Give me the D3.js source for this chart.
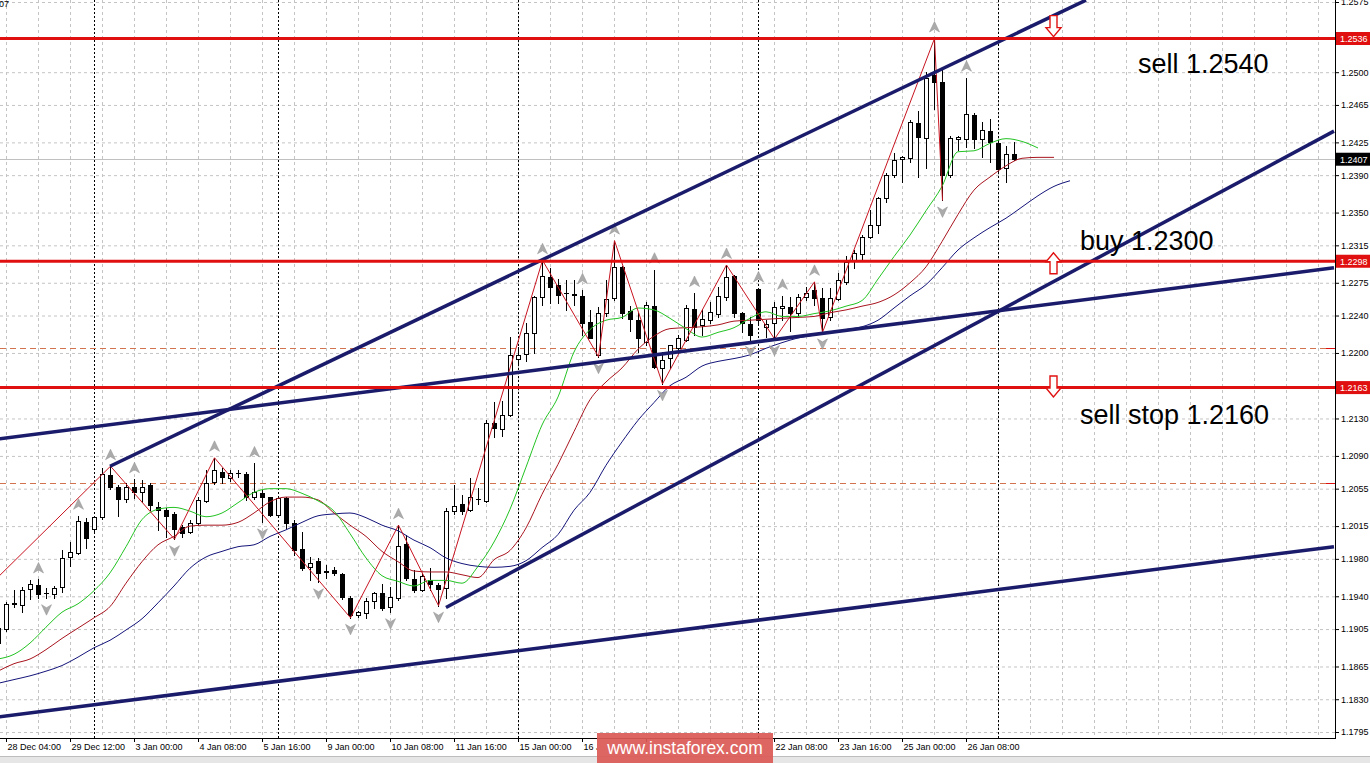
<!DOCTYPE html>
<html><head><meta charset="utf-8">
<script src="https://cdn.jsdelivr.net/npm/d3@7/dist/d3.min.js"></script>
<style>html,body{margin:0;padding:0;background:#fff;overflow:hidden}svg{display:block}</style>
</head><body><svg id="c" width="1370" height="763"></svg>
<script>
// ---------- DATA (EURUSD H4) ----------
const opens = [1.1890,1.1905,1.1932,1.1931,1.1948,1.1952,1.1944,1.1942,1.1950,1.1982,1.1986,1.2019,1.2012,1.2025,1.2070,1.2057,1.2044,1.2057,1.2051,1.2059,1.2035,1.2032,1.2028,1.2014,1.2009,1.2018,1.2042,1.2062,1.2073,1.2066,1.2072,1.2071,1.2046,1.2050,1.2046,1.2027,1.2045,1.2018,1.1991,1.1971,1.1978,1.1966,1.1968,1.1964,1.1938,1.1920,1.1922,1.1935,1.1944,1.1929,1.1938,1.1996,1.1959,1.1947,1.1957,1.1952,1.1949,1.2031,1.2039,1.2032,1.2044,1.2042,1.2125,1.2119,1.2134,1.2194,1.2199,1.2221,1.2260,1.2281,1.2273,1.2264,1.2263,1.2261,1.2233,1.2198,1.2243,1.2259,1.2292,1.2245,1.2235,1.2212,1.2250,1.2184,1.2195,1.2205,1.2214,1.2247,1.2230,1.2235,1.2242,1.2260,1.2282,1.2243,1.2231,1.2268,1.2228,1.2232,1.2248,1.2249,1.2243,1.2260,1.2267,1.2259,1.2238,1.2258,1.2276,1.2299,1.2306,1.2324,1.2337,1.2366,1.2390,1.2407,1.2408,1.2446,1.2430,1.2497,1.2490,1.2390,1.2429,1.2429,1.2454,1.2429,1.2437,1.2424,1.2398,1.2413];
const highs = [1.1915,1.1934,1.1947,1.1950,1.1957,1.1958,1.1949,1.1951,1.1989,1.1998,1.2026,1.2024,1.2026,1.2077,1.2079,1.2059,1.2061,1.2065,1.2064,1.2061,1.2041,1.2034,1.2030,1.2016,1.2022,1.2046,1.2075,1.2088,1.2077,1.2075,1.2075,1.2073,1.2082,1.2054,1.2046,1.2046,1.2046,1.2022,1.2009,1.1982,1.1981,1.1973,1.1971,1.1965,1.1940,1.1924,1.1938,1.1945,1.1953,1.1950,1.2016,1.2006,1.1968,1.1965,1.1970,1.1954,1.2034,1.2059,1.2048,1.2066,1.2056,1.2128,1.2148,1.2149,1.2217,1.2206,1.2232,1.2261,1.2299,1.2291,1.2279,1.2278,1.2278,1.2267,1.2246,1.2249,1.2278,1.2320,1.2293,1.2250,1.2243,1.2254,1.2289,1.2201,1.2209,1.2219,1.2251,1.2264,1.2247,1.2254,1.2270,1.2294,1.2283,1.2244,1.2238,1.2269,1.2235,1.2254,1.2261,1.2260,1.2263,1.2271,1.2276,1.2269,1.2269,1.2285,1.2304,1.2310,1.2326,1.2353,1.2367,1.2392,1.2414,1.2410,1.2449,1.2459,1.2500,1.2536,1.2502,1.2432,1.2432,1.2494,1.2456,1.2447,1.2450,1.2425,1.2421,1.2425];
const lows = [1.1885,1.1903,1.1929,1.1923,1.1937,1.1938,1.1938,1.1938,1.1945,1.1972,1.1985,1.1992,1.2009,1.2023,1.2055,1.2026,1.2041,1.2045,1.2041,1.2032,1.2011,1.2003,1.2001,1.2003,1.2008,1.2016,1.2041,1.2060,1.2061,1.2063,1.2067,1.2043,1.2044,1.2019,1.2026,1.2026,1.2013,1.1984,1.1968,1.1957,1.1955,1.1960,1.1963,1.1937,1.1917,1.1918,1.1917,1.1928,1.1925,1.1923,1.1936,1.1957,1.1945,1.1946,1.1947,1.1930,1.1938,1.2028,1.2028,1.2031,1.2039,1.2041,1.2110,1.2111,1.2133,1.2187,1.2191,1.2200,1.2251,1.2253,1.2253,1.2246,1.2251,1.2219,1.2216,1.2196,1.2240,1.2257,1.2237,1.2224,1.2201,1.2208,1.2184,1.2167,1.2184,1.2200,1.2213,1.2219,1.2219,1.2232,1.2238,1.2257,1.2238,1.2222,1.2214,1.2232,1.2217,1.2215,1.2235,1.2224,1.2238,1.2257,1.2251,1.2222,1.2235,1.2257,1.2274,1.2291,1.2299,1.2323,1.2328,1.2361,1.2388,1.2383,1.2404,1.2388,1.2398,1.2461,1.2363,1.2388,1.2417,1.2420,1.2419,1.2409,1.2404,1.2393,1.2383,1.2406];
const closes = [1.1906,1.1932,1.1933,1.1947,1.1953,1.1942,1.1944,1.1949,1.1981,1.1987,1.2020,1.2002,1.2025,1.2071,1.2057,1.2044,1.2057,1.2051,1.2057,1.2038,1.2032,1.2026,1.2012,1.2008,1.2018,1.2043,1.2061,1.2075,1.2067,1.2072,1.2072,1.2046,1.2051,1.2046,1.2027,1.2045,1.2018,1.1989,1.1970,1.1976,1.1965,1.1967,1.1965,1.1939,1.1920,1.1923,1.1935,1.1944,1.1928,1.1939,1.1994,1.1960,1.1947,1.1962,1.1953,1.1948,1.2031,1.2036,1.2031,1.2046,1.2044,1.2125,1.2120,1.2134,1.2198,1.2198,1.2221,1.2260,1.2282,1.2270,1.2262,1.2264,1.2262,1.2232,1.2216,1.2243,1.2258,1.2292,1.2243,1.2236,1.2216,1.2251,1.2185,1.2192,1.2208,1.2216,1.2248,1.2228,1.2236,1.2244,1.2261,1.2281,1.2243,1.2232,1.2219,1.2235,1.2231,1.2249,1.2250,1.2243,1.2260,1.2264,1.2259,1.2237,1.2259,1.2278,1.2297,1.2307,1.2324,1.2337,1.2366,1.2390,1.2406,1.2409,1.2447,1.2431,1.2494,1.2490,1.2390,1.2430,1.2431,1.2455,1.2429,1.2438,1.2425,1.2397,1.2413,1.2407];

// Alligator lines, read every 2 bars starting at bar 0
const lipsGreen = [1.1873,1.1878,1.1890,1.1907,1.1923,1.1932,1.1946,1.1965,1.1993,1.2022,1.2033,1.2035,1.2031,1.2025,1.2029,1.2040,1.2051,1.2055,1.2055,1.2050,1.2042,1.2031,1.2007,1.1981,1.1962,1.1956,1.1951,1.1957,1.1957,1.1954,1.1972,1.1998,1.2033,1.2078,1.2123,1.2153,1.2201,1.2225,1.2235,1.2238,1.2248,1.2246,1.2237,1.2226,1.2217,1.2222,1.2227,1.2237,1.2244,1.2239,1.2239,1.2242,1.2245,1.2250,1.2256,1.2279,1.2303,1.2326,1.2352,1.2378,1.2415,1.2416,1.2424,1.2429,1.2426,1.2419];
const teethRed = [1.1860,1.1868,1.1873,1.1883,1.1895,1.1906,1.1917,1.1929,1.1954,1.1977,1.1995,1.2004,1.2015,1.2016,1.2016,1.2019,1.2029,1.2041,1.2046,1.2046,1.2043,1.2029,1.2016,1.2004,1.1988,1.1977,1.1967,1.1966,1.1966,1.1963,1.1960,1.1979,1.1989,1.2013,1.2049,1.2081,1.2116,1.2150,1.2169,1.2184,1.2204,1.2218,1.2226,1.2227,1.2228,1.2230,1.2234,1.2235,1.2236,1.2237,1.2238,1.2239,1.2243,1.2246,1.2250,1.2254,1.2262,1.2275,1.2292,1.2319,1.2348,1.2374,1.2388,1.2400,1.2408,1.2409,1.2409];
const jawBlue = [1.1847,1.1851,1.1855,1.1860,1.1866,1.1875,1.1885,1.1893,1.1904,1.1916,1.1933,1.1951,1.1970,1.1982,1.1988,1.1993,1.1995,1.2004,1.2011,1.2019,1.2026,1.2028,1.2029,1.2024,1.2016,1.2010,1.2000,1.1992,1.1981,1.1975,1.1972,1.1971,1.1972,1.1978,1.1992,1.2006,1.2032,1.2051,1.2080,1.2105,1.2128,1.2147,1.2165,1.2174,1.2186,1.2191,1.2194,1.2198,1.2205,1.2211,1.2216,1.2219,1.2222,1.2225,1.2228,1.2235,1.2248,1.2261,1.2273,1.2291,1.2310,1.2323,1.2334,1.2344,1.2356,1.2368,1.2378,1.2384];

// ZigZag vertices (bar index, price)
const zigzagIdx = [0,14,22,27,44,50,55,68,75,77,83,91,97,102,103,117,118];
const zigzagVal = [1.1961,1.2079,1.2001,1.2088,1.1917,1.2016,1.1930,1.2299,1.2196,1.2320,1.2167,1.2294,1.2215,1.2276,1.2222,1.2536,1.2363];

// Fractals (bar indices)
const fractalUp = [5,10,14,17,27,32,50,68,73,77,82,87,91,95,98,102,117,121];
const fractalDown = [6,22,33,40,44,49,55,75,83,94,97,103,118];

// Trend lines: [barIndex, price] pairs
const trendUpper = [[14,1.2079],[136,1.2577]];
const trendLowerChannel = [[56,1.1928],[167,1.2437]];
const trendMiddle = [[0,1.2108],[167,1.2291]];
const trendBottom = [[0,1.1811],[167,1.1993]];

// Horizontal levels
const redLevels = [1.2536,1.2298,1.2163];
const dashedLevels = [1.2205,1.2061];
const bidPrice = 1.2407;

// Annotation arrows (tip price) and texts
const arrowBar = [132,132,132];
const arrowTip = [1.2538,1.2307,1.2153];
const arrowDir = ["down","up","down"];
const noteText = ["sell 1.2540","buy 1.2300","sell stop 1.2160"];
const noteBar = [142.5,135.25,135.25];
const notePrice = [1.2499,1.2310,1.2124];

// Axis ticks
const priceTicks = [1.2575,1.2500,1.2465,1.2425,1.2390,1.2350,1.2315,1.2275,1.2240,1.2200,1.2130,1.2090,1.2055,1.2015,1.1980,1.1940,1.1905,1.1865,1.1830,1.1795];
const timeTickIdx = [1,9,17,25,33,41,49,57,65,73,81,89,97,105,113,121];
const timeLabels = ["28 Dec 04:00","29 Dec 12:00","3 Jan 00:00","4 Jan 08:00","5 Jan 16:00","9 Jan 00:00","10 Jan 08:00","11 Jan 16:00","15 Jan 00:00","16 Jan 08:00","17 Jan 16:00","19 Jan 00:00","22 Jan 08:00","23 Jan 16:00","25 Jan 00:00","26 Jan 08:00"];
const weekSeparators = [12,35,65,95,125];

// ---------- DRAW ----------
const PR = 1335, PB = 738;
const WM = {x:597, y:733, w:176, h:30};
const svg = d3.select("#c");
const FONT = "'Liberation Sans', Arial, sans-serif";
const xS = d3.scaleLinear().domain([0,167]).range([-2,1334]);
const yS = d3.scaleLinear().domain([1.2575,1.1795]).range([2,732]);

svg.append("rect").attr("width",1370).attr("height",763).attr("fill","#fff");
const defs = svg.append("defs");
defs.append("clipPath").attr("id","clip")
  .append("rect").attr("x",0).attr("y",0).attr("width",PR).attr("height",PB);
const cpx = defs.append("clipPath").attr("id","clipx");
cpx.append("rect").attr("x",-10).attr("y",-50).attr("width",WM.x+10).attr("height",100);
cpx.append("rect").attr("x",WM.x+WM.w).attr("y",-50).attr("width",1370).attr("height",100);

// grid
const gGrid = svg.append("g").attr("class","grid");
gGrid.call(d3.axisLeft(yS).tickValues(priceTicks).tickSize(-PR).tickFormat(""));
gGrid.append("g").call(d3.axisTop(xS).tickValues(d3.range(1,168,4)).tickSize(-PB).tickFormat(""));
gGrid.selectAll(".domain").remove();
gGrid.selectAll(".tick line").attr("stroke","#c4c4c4").attr("stroke-dasharray","3,3");

const plot = svg.append("g").attr("clip-path","url(#clip)");

// weekly separators
plot.selectAll("line.sep").data(weekSeparators).join("line").attr("class","sep")
  .attr("x1",d=>Math.round(xS(d))+0.5).attr("x2",d=>Math.round(xS(d))+0.5)
  .attr("y1",0).attr("y2",PB).attr("stroke","#000").attr("stroke-dasharray","2,2");

// dashed levels
plot.selectAll("line.dl").data(dashedLevels).join("line").attr("class","dl")
  .attr("x1",0).attr("x2",PR).attr("y1",d=>Math.round(yS(d))+0.5).attr("y2",d=>Math.round(yS(d))+0.5)
  .attr("stroke","#d2734f").attr("stroke-dasharray","6,4");

// bid line
plot.append("line").attr("x1",0).attr("x2",PR)
  .attr("y1",Math.round(yS(bidPrice))+0.5).attr("y2",Math.round(yS(bidPrice))+0.5)
  .attr("stroke","#c0c0c0");

// candles
const bars = opens.map((o,i)=>({i,o,h:highs[i],l:lows[i],c:closes[i]}));
const cg = plot.append("g");
const cs = cg.selectAll("g").data(bars).join("g");
cs.append("line")
  .attr("x1",d=>Math.round(xS(d.i))+0.5).attr("x2",d=>Math.round(xS(d.i))+0.5)
  .attr("y1",d=>Math.round(yS(d.h))).attr("y2",d=>Math.round(yS(d.l))+1)
  .attr("stroke","#000");
cs.each(function(d){
  const g = d3.select(this);
  const cx = Math.round(xS(d.i));
  const top = Math.round(yS(Math.max(d.o,d.c)))+0.5;
  const bot = Math.round(yS(Math.min(d.o,d.c)))+0.5;
  if (bot-top < 1) {
    g.append("line").attr("x1",cx-2).attr("x2",cx+3).attr("y1",top).attr("y2",top).attr("stroke","#000");
  } else {
    g.append("rect").attr("x",cx-1.5).attr("y",top).attr("width",4).attr("height",bot-top)
      .attr("fill",d.c>=d.o?"#fff":"#000").attr("stroke","#000");
  }
});

// alligator
function maLine(vals, color){
  const pts = vals.map((v,k)=>({i:k*2,v}));
  plot.append("path").datum(pts)
    .attr("d",d3.line().x(d=>xS(d.i)).y(d=>yS(d.v)).curve(d3.curveMonotoneX))
    .attr("fill","none").attr("stroke",color).attr("stroke-width",1);
}
maLine(jawBlue,"#14147a");
maLine(teethRed,"#a8141e");
maLine(lipsGreen,"#22c322");

// zigzag
plot.append("path").datum(zigzagIdx.map((d,k)=>({i:d,v:zigzagVal[k]})))
  .attr("d",d3.line().x(d=>xS(d.i)+0.5).y(d=>yS(d.v)))
  .attr("fill","none").attr("stroke","#c81420").attr("stroke-width",1);

// fractals
const upArrow = "M0,-6 L5,4.5 L0,1.5 L-5,4.5 Z";
const dnArrow = "M0,6 L5,-4.5 L0,-1.5 L-5,-4.5 Z";
plot.selectAll("path.fu").data(fractalUp).join("path").attr("class","fu")
  .attr("d",upArrow).attr("transform",d=>`translate(${Math.round(xS(d))+0.5},${yS(highs[d])-11})`)
  .attr("fill","#ababab").attr("stroke","#909090").attr("stroke-width",0.5);
plot.selectAll("path.fd").data(fractalDown).join("path").attr("class","fd")
  .attr("d",dnArrow).attr("transform",d=>`translate(${Math.round(xS(d))+0.5},${yS(lows[d])+11})`)
  .attr("fill","#ababab").attr("stroke","#909090").attr("stroke-width",0.5);

// trend lines
[trendUpper,trendLowerChannel,trendMiddle,trendBottom].forEach(t=>{
  plot.append("path").datum(t).attr("d",d3.line().x(d=>xS(d[0])).y(d=>yS(d[1])))
    .attr("fill","none").attr("stroke","#1b1b6b").attr("stroke-width",3.5);
});

// red levels
plot.selectAll("line.rl").data(redLevels).join("line").attr("class","rl")
  .attr("x1",0).attr("x2",PR).attr("y1",d=>yS(d)).attr("y2",d=>yS(d))
  .attr("stroke","#e01010").attr("stroke-width",3);

// annotation arrows
const arrowDown = "M0,0 L-7.5,-9 L-3.5,-9 L-3.5,-21 L3.5,-21 L3.5,-9 L7.5,-9 Z";
const arrowUp = "M0,0 L-7.5,9 L-3.5,9 L-3.5,21 L3.5,21 L3.5,9 L7.5,9 Z";
svg.selectAll("path.ann").data(arrowBar).join("path").attr("class","ann")
  .attr("d",(d,k)=>arrowDir[k]==="down"?arrowDown:arrowUp)
  .attr("transform",(d,k)=>`translate(${xS(d)-0.5},${yS(arrowTip[k])})`)
  .attr("fill","#fff").attr("stroke","#e01010").attr("stroke-width",1.4);

// notes
svg.selectAll("text.note").data(noteText).join("text").attr("class","note")
  .attr("x",(d,k)=>xS(noteBar[k])).attr("y",(d,k)=>yS(notePrice[k]))
  .attr("font-family",FONT).attr("font-size",27).attr("fill","#000").text(d=>d);

// axes frame
svg.append("line").attr("x1",PR+0.5).attr("x2",PR+0.5).attr("y1",0).attr("y2",PB+1).attr("stroke","#000");
svg.append("line").attr("x1",0).attr("x2",PR+1).attr("y1",PB+0.5).attr("y2",PB+0.5).attr("stroke","#000");

// right axis
const ra = svg.append("g").attr("transform",`translate(${PR},0)`)
  .call(d3.axisRight(yS).tickValues(priceTicks).tickFormat(d3.format(".4f")).tickSize(4).tickPadding(2));
ra.select(".domain").remove();
ra.selectAll("text").attr("font-family",FONT).attr("font-size",9).attr("fill","#000");
ra.selectAll(".tick line").attr("stroke","#000");

// short red markers at axis for dashed levels
svg.selectAll("line.dm").data(dashedLevels).join("line").attr("class","dm")
  .attr("x1",PR-9).attr("x2",PR).attr("y1",d=>Math.round(yS(d))+0.5).attr("y2",d=>Math.round(yS(d))+0.5)
  .attr("stroke","#e01010");

// price boxes
const boxes = redLevels.map(p=>({p,c:"#e01010"})).concat([{p:bidPrice,c:"#000"}]);
const bx = svg.selectAll("g.box").data(boxes).join("g").attr("class","box");
bx.append("rect").attr("x",PR+1).attr("y",d=>yS(d.p)-6.5).attr("width",34).attr("height",13).attr("fill",d=>d.c);
bx.append("text").attr("x",PR+5).attr("y",d=>yS(d.p)+3.3).attr("font-family",FONT).attr("font-size",9)
  .attr("fill","#fff").text(d=>d3.format(".4f")(d.p));

// bottom axis (labels under the watermark are hidden, as in the screenshot)
const ba = svg.append("g").attr("transform",`translate(0,${PB})`)
  .call(d3.axisBottom(xS).tickValues(timeTickIdx).tickFormat((d,k)=>timeLabels[k]).tickSize(4).tickPadding(2));
ba.select(".domain").remove();
ba.selectAll(".tick line").attr("stroke","#000");
ba.selectAll("text").attr("font-family",FONT).attr("font-size",9).attr("fill","#000")
  .attr("text-anchor","start").attr("x",1).attr("clip-path","url(#clipxT)");
ba.selectAll(".tick").each(function(d){
  const tx = xS(d);
  const t = d3.select(this).select("text");
  if (tx + 50 > WM.x && tx < WM.x + WM.w) {
    if (tx + 4 > WM.x) t.remove();
    else {
      // keep only the part left of the watermark
      const id = "cl"+d;
      defs.append("clipPath").attr("id",id).append("rect")
        .attr("x",-5).attr("y",-20).attr("width",WM.x - Math.round(tx) + 5).attr("height",40);
      t.attr("clip-path",`url(#${id})`);
    }
  } else t.attr("clip-path",null);
});

// bottom status strip
svg.append("rect").attr("x",0).attr("y",757).attr("width",1370).attr("height",6).attr("fill","#e6e6e6");
svg.append("line").attr("x1",0).attr("x2",1370).attr("y1",756.5).attr("y2",756.5).attr("stroke","#bdbdbd");

// top-left fragment
svg.append("text").attr("x",-1).attr("y",7).attr("font-family",FONT).attr("font-size",9).attr("fill","#000").text("07");

// watermark
svg.append("rect").attr("x",WM.x).attr("y",WM.y).attr("width",WM.w).attr("height",WM.h).attr("fill","#db5a56").attr("opacity",0.93);
svg.append("text").attr("x",WM.x+WM.w/2).attr("y",754).attr("text-anchor","middle").attr("font-family",FONT)
  .attr("font-size",17.5).attr("fill","#fff").text("www.instaforex.com");
</script>
</body></html>
